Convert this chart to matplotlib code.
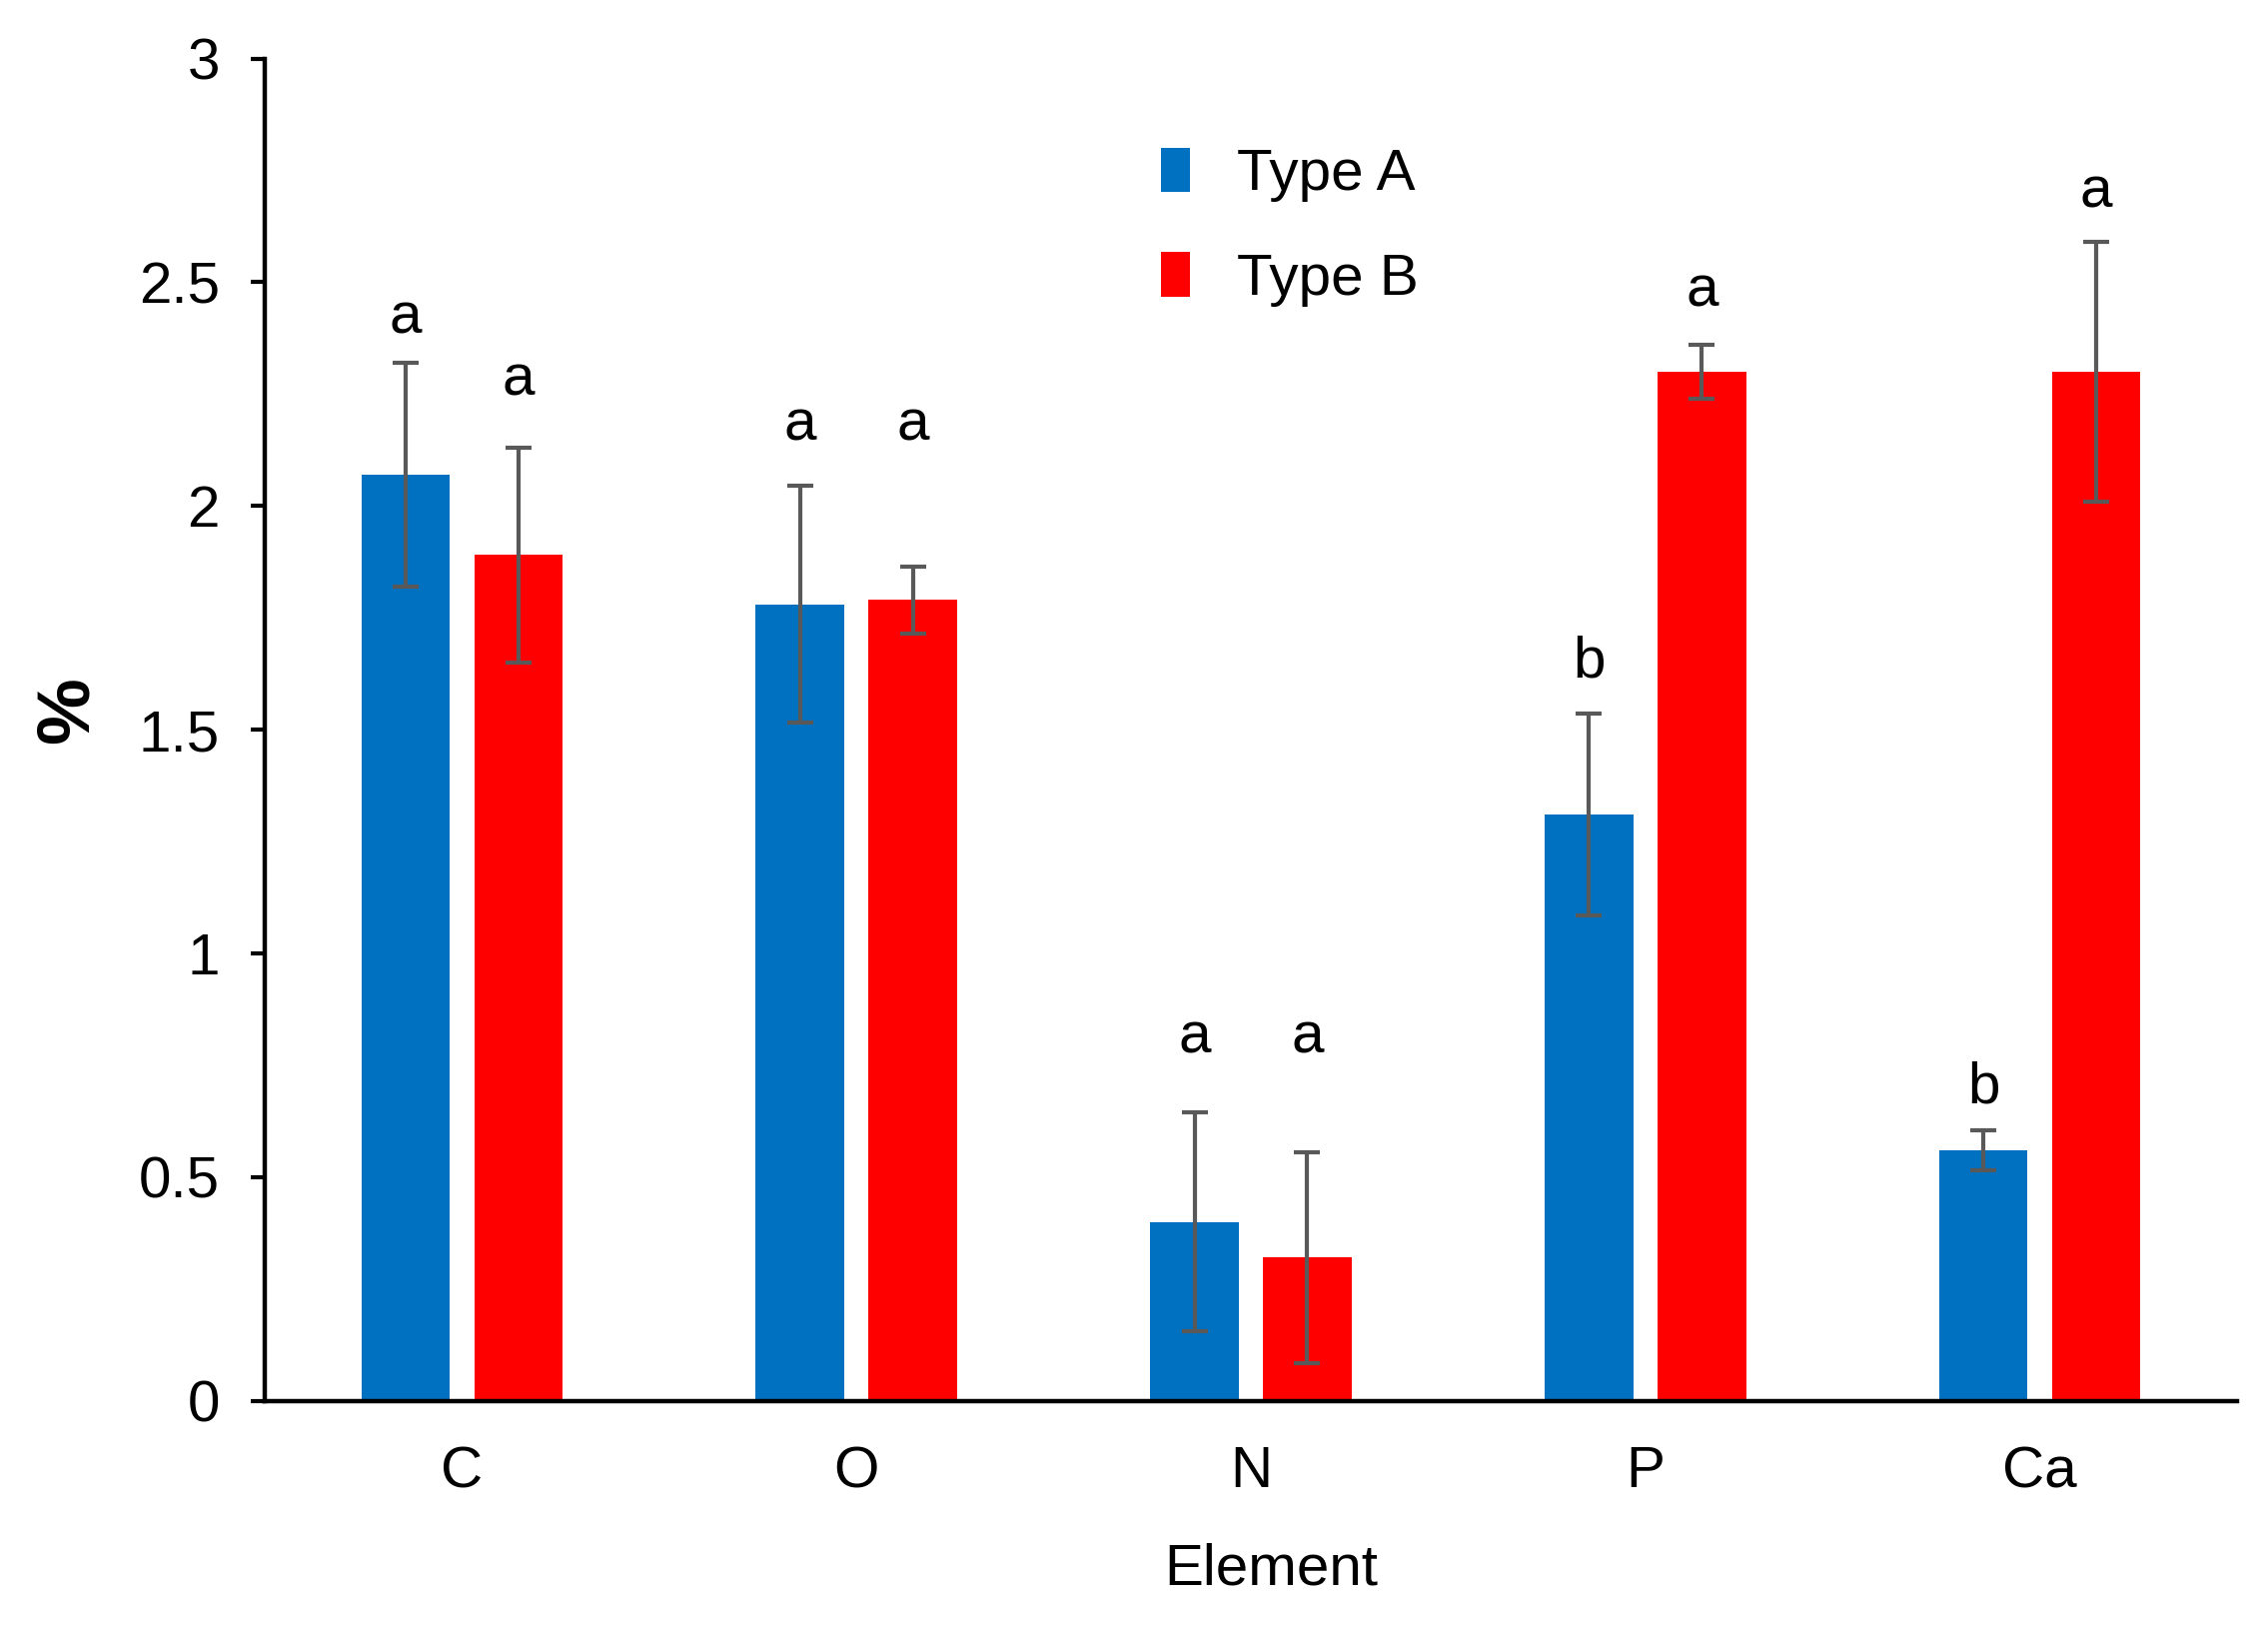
import matplotlib
matplotlib.use('Agg')
import matplotlib.pyplot as plt
import numpy as np

plt.rcParams['font.family'] = ['Liberation Sans', 'DejaVu Sans']

elements = ['C', 'O', 'N', 'P', 'Ca']
type_a = [2.07, 1.78, 0.40, 1.31, 0.56]
type_a_err = [0.25, 0.265, 0.245, 0.225, 0.045]
type_b = [1.89, 1.79, 0.32, 2.30, 2.30]
type_b_err = [0.24, 0.075, 0.235, 0.06, 0.29]
# significance letters and the heights they sit at
letters_a = ['a', 'a', 'a', 'b', 'b']
letters_a_y = [2.42, 2.18, 0.81, 1.65, 0.70]
letters_b = ['a', 'a', 'a', 'a', 'a']
letters_b_y = [2.28, 2.18, 0.81, 2.48, 2.70]

blue = '#0070c0'
red = '#ff0000'
ecol = '#595959'
fs = 21

fig = plt.figure(figsize=(11.35, 8.13), dpi=200)
ax = fig.add_axes([0.1167, 0.138, 0.8697, 0.826])

x = np.arange(len(elements))
w = 0.224
off = 0.143
ekw = dict(ecolor=ecol, elinewidth=1.5, capsize=4.7, capthick=1.5)
ax.bar(x - off, type_a, w, color=blue, yerr=type_a_err, error_kw=ekw, label='Type A')
ax.bar(x + off, type_b, w, color=red, yerr=type_b_err, error_kw=ekw, label='Type B')

for i in range(len(elements)):
    ax.text(x[i] - off, letters_a_y[i], letters_a[i], ha='center', va='center', fontsize=fs)
    ax.text(x[i] + off, letters_b_y[i], letters_b[i], ha='center', va='center', fontsize=fs)

ax.set_xlim(-0.5, len(elements) - 0.5)
ax.set_ylim(0, 3)
ax.set_yticks([0, 0.5, 1, 1.5, 2, 2.5, 3])
ax.set_yticklabels(['0', '0.5', '1', '1.5', '2', '2.5', '3'])
ax.set_xticks(x)
ax.set_xticklabels(elements)
ax.tick_params(axis='y', length=5.2, width=1.5, pad=11, labelsize=fs)
ax.tick_params(axis='x', length=0, pad=16, labelsize=fs)
for s in ['top', 'right']:
    ax.spines[s].set_visible(False)
for s in ['left', 'bottom']:
    ax.spines[s].set_linewidth(1.6)

ax.set_xlabel('Element', fontsize=fs)
ax.xaxis.set_label_coords(0.51, -0.106)
fig.text(0.030, 0.563, '%', rotation=90, fontsize=27, fontweight='bold', ha='center', va='center')

ax.legend(loc='upper left', bbox_to_anchor=(0.499, 0.927), bbox_transform=fig.transFigure,
          frameon=False, fontsize=fs, handlelength=0.5, handleheight=0.8,
          handletextpad=0.8, labelspacing=0.85, borderpad=0)

fig.savefig('out.png', dpi=200, facecolor='white')
